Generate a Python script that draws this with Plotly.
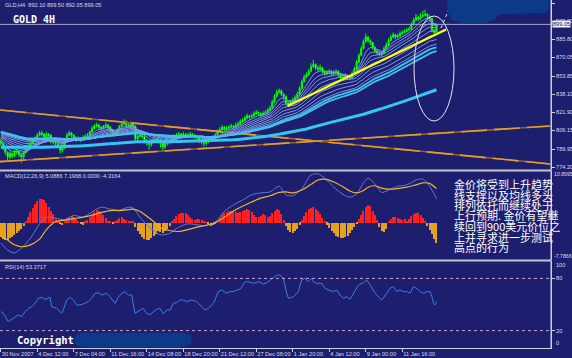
import plotly.graph_objects as go

# ------------------------------------------------------------------ data
closes = [
    795, 791, 787, 783, 786, 784, 787, 788, 785, 783,
    787, 790, 792, 795, 797, 799, 802, 804, 803, 801,
    803, 802, 796, 797, 795, 793, 789, 791, 798, 802,
    804, 802, 800, 798, 799, 798, 800, 801, 802, 805,
    808, 810, 811, 809, 808, 810, 811, 809, 806, 804,
    803, 807, 810, 812, 814, 811, 811, 812, 810, 799,
    801, 802, 801, 797, 796, 794, 796, 798, 797, 798,
    795, 792, 795, 797, 796, 800, 801, 802, 803, 802,
    803, 801, 802, 803, 802, 801, 800, 798, 797, 795,
    796, 797, 799, 800, 802, 805, 807, 809, 807, 808,
    809, 810, 809, 811, 812, 814, 815, 817, 819, 818,
    819, 821, 822, 821, 820, 821, 822, 824, 826, 831,
    836, 840, 841, 838, 836, 830, 829, 831, 833, 835,
    838, 843, 849, 853, 855, 858, 862, 864, 861, 860,
    861, 858, 856, 857, 858, 856, 857, 858, 855, 853,
    852, 854, 853, 852, 856, 860, 866, 872, 878, 884,
    888, 885, 883, 879, 876, 874, 873, 874, 878, 881,
    885, 888, 890, 888, 889, 891, 892, 893, 894, 895,
    899, 903, 905, 904, 906, 907, 908, 906, 904, 894,
    892.10, 899.05]
highs = [
    799, 796, 792, 788, 788, 787, 789, 790, 789, 786,
    788, 792, 794, 797, 799, 801, 804, 806, 806, 804,
    805, 804, 803, 799, 798, 796, 794, 793, 799, 804,
    806, 805, 803, 801, 801, 800, 802, 803, 804, 806,
    810, 812, 813, 812, 810, 811, 813, 812, 810, 807,
    805, 808, 811, 814, 816, 815, 813, 814, 813, 811,
    803, 804, 803, 802, 799, 797, 798, 800, 799, 800,
    799, 796, 797, 799, 798, 801, 803, 804, 805, 804,
    805, 804, 804, 805, 804, 803, 802, 801, 799, 798,
    798, 799, 801, 802, 804, 807, 809, 811, 810, 810,
    811, 812, 811, 813, 814, 816, 817, 819, 821, 820,
    821, 823, 824, 823, 822, 823, 824, 826, 828, 833,
    838, 842, 843, 842, 839, 837, 831, 833, 835, 837,
    840, 845, 851, 855, 857, 860, 865, 868, 865, 863,
    864, 862, 859, 859, 860, 859, 859, 860, 859, 856,
    854, 856, 855, 854, 858, 862, 868, 874, 880, 886,
    891, 889, 886, 884, 880, 877, 875, 876, 880, 883,
    887, 890, 892, 891, 891, 893, 894, 895, 896, 897,
    901, 905, 908, 907, 909, 911, 912, 909, 907, 905,
    895, 899.50]
lows = [
    793, 789, 785, 780, 781, 782, 783, 785, 783, 778,
    781, 786, 789, 791, 794, 796, 798, 801, 801, 799,
    800, 800, 795, 794, 793, 791, 786, 787, 790, 797,
    801, 800, 798, 796, 797, 796, 797, 799, 800, 801,
    804, 807, 809, 807, 806, 807, 809, 807, 804, 802,
    801, 802, 806, 809, 811, 809, 809, 810, 808, 797,
    797, 800, 799, 795, 793, 789, 792, 795, 795, 795,
    791, 788, 790, 793, 794, 795, 799, 800, 801, 800,
    801, 799, 800, 801, 800, 799, 798, 795, 794, 792,
    793, 795, 796, 798, 799, 801, 804, 806, 805, 806,
    807, 808, 807, 808, 810, 811, 813, 814, 816, 816,
    817, 818, 820, 819, 818, 819, 820, 821, 823, 825,
    830, 835, 838, 836, 833, 828, 827, 828, 830, 832,
    834, 837, 842, 848, 852, 854, 857, 861, 859, 858,
    858, 856, 854, 855, 856, 854, 855, 856, 853, 851,
    850, 851, 851, 850, 851, 855, 859, 865, 871, 877,
    883, 883, 881, 877, 874, 872, 871, 871, 873, 877,
    880, 884, 887, 886, 887, 888, 890, 891, 892, 893,
    894, 898, 902, 902, 903, 905, 906, 904, 902, 892,
    890, 892.05]
first_open = 797.0
last_price = 899.05

x_tick_bars = [0, 16, 32, 48, 64, 80, 96, 112, 128, 144, 160, 176]
x_tick_labels = ["30 Nov 2007", "4 Dec 12:00", "7 Dec 04:00", "11 Dec 16:00",
                 "14 Dec 08:00", "18 Dec 20:00", "21 Dec 12:00", "27 Dec 08:00",
                 "1 Jan 20:00", "4 Jan 12:00", "9 Jan 00:00", "11 Jan 16:00"]
price_ticks = [774.20, 789.95, 806.15, 821.90, 838.10, 853.85, 870.05, 885.80, 902.00, 917.75]

# moving averages (periods and their values at the left edge of the chart)
fan_periods = [7, 11, 15, 20, 26, 33, 41, 49]
fan_seeds = [796, 798, 800, 801, 802, 803, 804, 804.5]
mid_periods = [55, 62]
mid_seeds = [805, 805.5]
long_periods = [180]
long_seeds = [791.5]

# MACD(12,26,9)
macd_bars = [0, 3, 6, 9, 13, 17, 20, 24, 28, 32, 36, 40, 44, 48, 52, 56, 58, 61, 64, 67,
             70, 74, 78, 82, 86, 90, 94, 98, 102, 106, 110, 114, 118, 122, 125, 128, 132, 136, 139, 142,
             146, 150, 153, 156, 159, 161, 164, 167, 170, 174, 178, 182, 185, 188, 191]
macd_main = [-4.2, -5.7, -6.3, -5.3, -3.2, -0.2, 1.2, 1.0, 0.7, 1.6, 1.2, 2.3, 3.3, 2.9, 2.7, 3.3, 3.1, 1.2, -0.4, -1.6,
             -2.5, -2.2, -0.9, -0.2, -0.4, -0.6, 0.2, 2.4, 3.8, 4.8, 5.9, 6.3, 6.5, 7.7, 5.9, 5.7, 7.2, 10.1, 10.3, 9.4,
             7.5, 6.0, 5.4, 6.1, 8.4, 9.4, 8.2, 6.4, 6.9, 7.7, 8.0, 9.0, 9.2, 7.7, 5.0886]
macd_signal = [-2.75, -3.6, -4.6, -5.0, -4.6, -3.4, -1.4, 0.3, 0.6, 0.9, 1.2, 1.6, 2.2, 2.6, 2.6, 2.8, 2.9, 2.4, 1.4, 0.3,
               -1.0, -1.6, -1.8, -1.4, -0.9, -0.5, 0.1, 1.2, 2.5, 3.5, 4.4, 5.2, 5.7, 6.4, 6.5, 6.3, 6.9, 8.1, 9.0, 9.2,
               8.6, 7.6, 6.7, 6.3, 6.8, 7.5, 7.8, 7.3, 7.1, 7.2, 7.5, 8.0, 8.4, 8.3, 7.1968]
macd_hist = [
    -3.0, -3.4, -3.6, -3.5, -3.2, -2.9, -2.6, -2.2, -1.8, -1.2, -0.6,
    0.4, 1.2, 2.2, 3.2, 4.0, 4.6, 5.0, 5.1, 4.8, 4.2, 3.4, 2.6, 1.8, 1.1, 0.5,
    -0.3, -0.5, 0.3, 0.8, 1.2, 1.5, 1.3, 0.8, 0.3, -0.2, -0.4, 0.2, 0.6, 1.2, 1.8,
    2.3, 2.7, 2.6, 2.2, 1.6, 1.0, 0.5,
    0.2, -0.2, 0.3, 0.7, 1.0, 1.2, 0.9, 0.6, 0.3, 0.5, 0.2,
    -0.8, -1.6, -2.4, -3.0, -3.4, -3.6, -3.5, -3.2, -2.8, -2.3, -1.8, -1.9, -2.1, -1.7, -1.2, -0.6,
    0.2, 0.8, 1.4, 1.8, 2.0, 2.1, 2.0, 1.7, 1.3, 0.9, 0.6, 0.8, 0.9, 0.6, 0.3, 0.1,
    -0.3, -0.6, -0.5, -0.2, 0.4,
    1.0, 1.6, 2.0, 2.3, 2.5, 2.6, 2.4, 2.2, 2.0, 2.2, 2.5, 2.7, 2.9, 2.7, 2.2, 1.7,
    1.3, 1.2, 1.5, 1.8, 1.6, 1.3, 1.5, 2.0, 2.5, 2.9, 2.7, 1.8, 0.6,
    -0.6, -1.4, -2.0, -2.1, -1.8, -1.2, -0.4,
    0.6, 1.5, 2.3, 2.9, 3.2, 3.3, 3.0, 2.5, 1.8, 1.1, 0.4,
    -0.4, -1.0, -1.6, -2.2, -2.7, -3.0, -3.2, -3.2, -3.0, -2.7, -2.2, -1.5, -0.8, -0.1,
    0.8, 1.7, 2.6, 3.3, 3.8, 3.5, 2.6, 1.6, 0.6,
    -0.8, -1.6, -1.9, -1.2,
    0.2, 0.8, 1.2, 1.3, 1.1, 0.8, 0.6, 0.9, 0.5,
    0.8, 1.4, 1.9, 2.1, 2.0, 1.6, 1.0, 0.4,
    -0.6, -1.5, -2.4, -3.4, -4.3164]
macd_max, macd_min = 10.8995, -7.7866

# RSI(14)
rsi_bars = [0, 1.1, 3.3, 5.5, 7.7, 9.2, 10.6, 12.1, 13.5, 15.0,
            16.5, 17.9, 19.4, 21.6, 22.3, 24.5, 26.7, 27.4, 28.9, 30.3,
            31.8, 33.3, 34.7, 36.2, 38.4, 39.8, 41.3, 42.8, 44.2, 46.4,
            47.9, 50.1, 51.5, 53.0, 54.4, 55.9, 57.4, 58.8, 61.0, 62.5,
            63.9, 65.4, 66.9, 68.3, 69.8, 71.3, 72.7, 74.2, 75.6, 77.1,
            78.6, 80.0, 81.5, 83.7, 85.9, 87.3, 89.5, 91.0, 93.2, 95.4,
            96.8, 99.0, 100.5, 101.9, 103.4, 104.9, 107.1, 108.5, 110.7, 112.9,
            115.1, 116.6, 118.0, 121.0, 122.4, 123.9, 125.3, 126.1, 128.3, 130.4,
            131.9, 133.4, 134.8, 136.3, 137.0, 138.5, 140.7, 142.1, 143.6, 145.8,
            147.3, 148.7, 150.2, 151.7, 153.1, 154.6, 156.8, 159.0, 160.4, 161.9,
            164.1, 165.5, 167.0, 169.2, 170.6, 172.1, 173.6, 175.0, 176.5, 178.0,
            179.4, 180.9, 182.4, 183.8, 185.3, 186.8, 188.2, 189.0, 189.7, 190.4,
            191.0]
rsi_vals = [41.8, 39.9, 30.3, 34.1, 38.0, 36.0, 41.8, 45.6, 47.5, 51.3,
            57.1, 58.2, 55.9, 58.2, 47.5, 45.6, 39.9, 43.7, 55.2, 58.2,
            55.2, 49.4, 49.4, 50.6, 53.3, 57.1, 62.8, 63.6, 60.9, 62.8,
            59.0, 51.3, 58.2, 62.8, 64.8, 60.9, 60.9, 39.9, 43.7, 45.6,
            39.9, 38.0, 41.8, 44.4, 45.6, 39.1, 43.7, 43.7, 51.3, 52.1,
            55.2, 55.2, 53.3, 55.2, 53.3, 49.4, 43.7, 45.6, 51.3, 64.8,
            66.7, 62.8, 64.8, 64.8, 66.7, 67.4, 76.2, 76.2, 74.3, 76.2,
            73.6, 75.1, 78.2, 83.9, 83.9, 80.1, 62.8, 57.1, 59.0, 64.8,
            78.2, 80.1, 76.2, 80.1, 76.2, 74.3, 74.3, 68.6, 66.7, 64.8,
            66.7, 60.9, 57.1, 59.0, 55.9, 62.8, 72.4, 75.1, 78.2, 72.4,
            62.8, 59.0, 55.2, 62.8, 68.6, 70.5, 64.8, 66.7, 64.8, 64.8,
            62.8, 70.5, 68.6, 64.8, 62.8, 64.8, 64.8, 59.0, 51.3, 49.4,
            53.3717]
rsi_levels = [20, 80]

# hand-drawn chart objects (bar index, price)
channel_top_x, channel_top_y = [-0.35, 240.8], [824.1, 776.9]
channel_bot_x, channel_bot_y = [-0.35, 240.8], [778.9, 810.1]
support_x, support_y = [125.7, 195.2], [827.6, 894.6]

note_lines = ["金价将受到上升趋势", "线支撑以及均线多头", "排列依托而继续处于",
              "上行预期. 金价有望继", "续回到900美元价位之", "上并寻求进一步测试", "高点的行为"]

# ------------------------------------------------------------------ layout constants
W, H = 572, 358
ML, MR, MT, MB = 0, 21, 0, 10
PW, PH = W - ML - MR, H - MT - MB
BG = "#1e1e6e"
AX = "#d0d0dc"
TXT = "#dcdce6"
SMALL = dict(family="Liberation Sans, Arial", size=5.6, color=TXT)


def pxx(x):
    return x / PW


def pxy(y):
    return 1 - y / PH


def ema(values, period, seed):
    a = 2.0 / (period + 1)
    out, e = [], seed
    for v in values:
        e = e + a * (v - e)
        out.append(e)
    return out


bars = list(range(len(closes)))
opens = [first_open] + closes[:-1]

fig = go.Figure()

# channel lines
for xs, ys in [(channel_top_x, channel_top_y), (channel_bot_x, channel_bot_y)]:
    fig.add_trace(go.Scatter(x=xs, y=ys, mode="lines", line=dict(color="#9a5a3a", width=1.6),
                             hoverinfo="skip"))
    fig.add_trace(go.Scatter(x=xs, y=ys, mode="lines",
                             line=dict(color="#e0a028", width=1.6, dash="26px,7px"), hoverinfo="skip"))

# candles
fig.add_trace(go.Candlestick(
    x=bars, open=opens, high=highs, low=lows, close=closes,
    increasing=dict(line=dict(color="#00ff00", width=1), fillcolor="#00ff00"),
    decreasing=dict(line=dict(color="#00ff00", width=1), fillcolor="#e8ffe8"),
    whiskerwidth=0, hoverinfo="skip"))

# moving averages
for p, s in zip(fan_periods, fan_seeds):
    fig.add_trace(go.Scatter(x=bars, y=ema(closes, p, s), mode="lines",
                             line=dict(color="#7c9ae4", width=1), hoverinfo="skip"))
for p, s in zip(mid_periods, mid_seeds):
    fig.add_trace(go.Scatter(x=bars, y=ema(closes, p, s), mode="lines",
                             line=dict(color="#3ec2ee", width=1.8), hoverinfo="skip"))
for p, s in zip(long_periods, long_seeds):
    fig.add_trace(go.Scatter(x=bars, y=ema(closes, p, s), mode="lines",
                             line=dict(color="#34c6ee", width=3), hoverinfo="skip"))

# support line
fig.add_trace(go.Scatter(x=support_x, y=support_y, mode="lines",
                         line=dict(color="#ffff10", width=2.4), hoverinfo="skip"))

# MACD
fig.add_trace(go.Bar(x=bars, y=macd_hist, yaxis="y2", width=0.45,
                     marker=dict(color=["#ff2020" if v > 0 else "#e6a21c" for v in macd_hist], line_width=0),
                     hoverinfo="skip"))
fig.add_trace(go.Scatter(x=macd_bars, y=macd_main, yaxis="y2", mode="lines",
                         line=dict(color="#5a7ad8", width=1, shape="spline", smoothing=0.8), hoverinfo="skip"))
fig.add_trace(go.Scatter(x=macd_bars, y=macd_signal, yaxis="y2", mode="lines",
                         line=dict(color="#f0b428", width=1.2, shape="spline", smoothing=0.8), hoverinfo="skip"))

# RSI
fig.add_trace(go.Scatter(x=rsi_bars, y=rsi_vals, yaxis="y3", mode="lines",
                         line=dict(color="#3a7ce8", width=1), hoverinfo="skip"))

shapes = []
for lv in rsi_levels:
    shapes.append(dict(type="line", xref="paper", x0=0, x1=1, yref="y3", y0=lv, y1=lv,
                       line=dict(color="#c8a8d0", width=1, dash="dot")))
# current price line
shapes.append(dict(type="line", xref="paper", x0=0, x1=1, yref="y", y0=last_price, y1=last_price,
                   line=dict(color="#a8a8d4", width=1)))
# panel separators
for yy in (170.5, 260.5):
    shapes.append(dict(type="line", xref="paper", yref="paper", x0=0, x1=1, y0=pxy(yy), y1=pxy(yy),
                       line=dict(color="#c4c4cc", width=2)))
# right border
shapes.append(dict(type="line", xref="paper", yref="paper", x0=1, x1=1, y0=0, y1=1,
                   line=dict(color=AX, width=1)))
# ellipse
shapes.append(dict(type="circle", xref="paper", yref="paper", x0=pxx(414), x1=pxx(454),
                   y0=pxy(121), y1=pxy(16), line=dict(color="#e4e4f0", width=1)))
shapes.append(dict(type="line", xref="paper", yref="paper", x0=pxx(441), x1=pxx(449),
                   y0=pxy(28), y1=pxy(9), line=dict(color="#e4e4f0", width=1, dash="dot")))


def path(points):
    return "M " + " L ".join(f"{pxx(a):.5f},{pxy(b):.5f}" for a, b in points) + " Z"


blob_top = [(447, 0), (549, 0), (549, 9), (546, 13), (500, 14), (494, 20), (484, 23), (462, 23),
            (452, 20), (448, 13)]
blob_bottom = [(82, 333), (186, 333), (191, 336), (192, 340), (190, 345), (185, 347), (82, 347),
               (76, 345), (74, 340), (76, 335)]
for pts in (blob_top, blob_bottom):
    shapes.append(dict(type="path", xref="paper", yref="paper", path=path(pts),
                       fillcolor="#0c3a88", line=dict(width=0)))

ann = []


def label(text, x, y, font, xanchor="left", yanchor="middle", **kw):
    ann.append(dict(text=text, xref="paper", yref="paper", x=pxx(x), y=pxy(y), xanchor=xanchor,
                    yanchor=yanchor, showarrow=False, font=font, **kw))


EDGE = dict(family="Liberation Sans, Arial", size=5.2, color=TXT)
label("GLD,H4  892.10 899.50 892.05 899.05", 3, 4.5, SMALL)
label("<b>GOLD 4H</b>", 11, 19, dict(family="DejaVu Sans Mono", size=10, color="#ffffff"))
label("MACD(12,26,9) 5.0886 7.1968 0.0000 -4.3164", 3, 176, SMALL)
label("RSI(14) 53.3717", 3, 267, SMALL)
label("<b>Copyright</b>", 15, 339.5, dict(family="DejaVu Sans Mono", size=10.5, color="#ffffff"))
label(f"{macd_max:.4f}", PW + 1, 174, EDGE)
label(f"{macd_min:.4f}", PW + 1, 256, EDGE)
label("100", PW + 3, 265, SMALL)
label("0", PW + 3, 343, SMALL)
ann.append(dict(text=f"{last_price:.2f}", xref="paper", yref="y", x=1, y=last_price, xanchor="left",
                yanchor="middle", showarrow=False, bgcolor="#f4f4f4", borderpad=0, xshift=1,
                font=dict(family="Liberation Sans, Arial", size=5.6, color="#101060")))
line_y = [184, 194.5, 205, 215.5, 226, 236.5, 247]
for t, yy in zip(note_lines, line_y):
    label(t, 452, yy, dict(family="Noto Sans CJK SC", size=11, color="#ffffff"))

yax_common = dict(side="right", anchor="x", showgrid=False, zeroline=False, showline=True,
                  linecolor=AX, linewidth=1, ticklen=3, tickcolor=AX, automargin=False,
                  tickfont=SMALL, fixedrange=True)

fig.update_layout(
    width=W, height=H, margin=dict(l=ML, r=MR, t=MT, b=MB, autoexpand=False),
    paper_bgcolor=BG, plot_bgcolor=BG, showlegend=False, bargap=0,
    font=dict(family="Liberation Sans, Arial", color=TXT),
    xaxis=dict(domain=[0, 1], range=[-0.35, 241.2], anchor="y3", tickmode="array",
               tickvals=x_tick_bars, ticktext=x_tick_labels, ticks="outside", ticklen=3,
               tickcolor=AX, tickfont=SMALL, ticklabelposition="outside right", tickangle=0,
               showline=True, linecolor=AX, linewidth=1, showgrid=False, zeroline=False,
               automargin=False, rangeslider=dict(visible=False), fixedrange=True),
    yaxis=dict(domain=[1 - 170 / PH, 1], range=[771.6, 920.4], tickmode="array", ticks="outside",
               tickvals=price_ticks, ticktext=[f"{v:.2f}" for v in price_ticks], **yax_common),
    yaxis2=dict(domain=[1 - 260 / PH, 1 - 171 / PH], range=[macd_min, macd_max], ticks="",
                showticklabels=False, **yax_common),
    yaxis3=dict(domain=[0, 1 - 261 / PH], range=[0, 100], tickmode="array", tickvals=rsi_levels,
                ticks="outside", ticktext=[str(v) for v in rsi_levels], **yax_common),
    shapes=shapes, annotations=ann,
)

fig.write_html("out.html", config={"displayModeBar": False},
               post_script="document.body.style.margin='0';document.body.style.overflow='hidden';"
                           "document.body.style.background='" + BG + "';")
